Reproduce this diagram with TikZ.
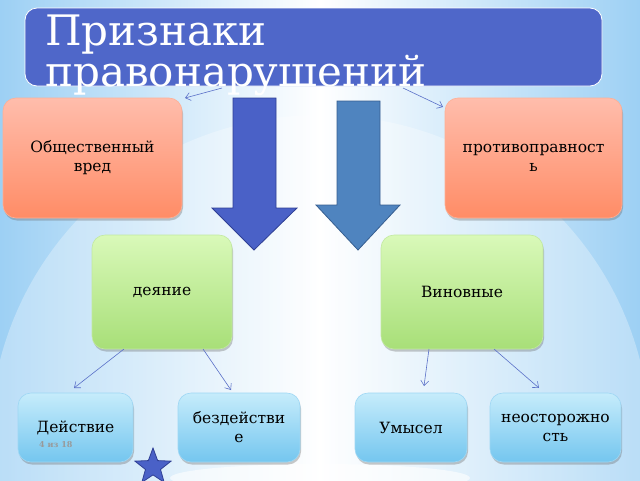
\documentclass[tikz,border=0pt]{standalone}
\usepackage{fontspec}
\setmainfont{DejaVu Serif}
\usetikzlibrary{shapes.geometric,shadows,arrows.meta}
\definecolor{bgb}{HTML}{9DD0F4}
\definecolor{titlec}{HTML}{4F67C9}
\definecolor{salt}{HTML}{FFBDAC}
\definecolor{salb}{HTML}{FF8C66}
\definecolor{grt}{HTML}{D9F9B9}
\definecolor{grb}{HTML}{A8DF78}
\definecolor{blt}{HTML}{C6ECFB}
\definecolor{blb}{HTML}{74C6EF}
\definecolor{arA}{HTML}{4A61C7}
\definecolor{arAd}{HTML}{2F3F94}
\definecolor{arB}{HTML}{4F84BF}
\definecolor{arBd}{HTML}{365E90}
\definecolor{connc}{HTML}{5A70C8}
\tikzset{
  box/.style={rounded corners=13pt, draw=#1!70!white, line width=0.6pt, align=center,
    font=\fontsize{15.5}{19}\selectfont, text=black,
    drop shadow={shadow xshift=1pt, shadow yshift=-2.5pt, opacity=0.35, fill=black!60}},
  redbox/.style={box=salb, top color=salt, bottom color=salb},
  greenbox/.style={box=grb, top color=grt, bottom color=grb},
  bluebox/.style={box=blb, top color=blt, bottom color=blb},
  conn/.style={draw=connc, line width=0.6pt, -{Straight Barb[length=5pt,width=8pt]}},
  bigarrow/.style={line width=0.8pt, line join=miter},
}
\begin{document}
\begin{tikzpicture}[x=1pt,y=-1pt]
\useasboundingbox (0,0) rectangle (640,480);
\clip (0,0) rectangle (640,480);
% background
\fill[left color=bgb, right color=bgb, middle color=white] (0,0) rectangle (640,480);
\fill[white, opacity=0.3] (320,440) ellipse [x radius=330, y radius=325];
\fill[white, opacity=0.6] (320,478) ellipse [x radius=150, y radius=14];
% title
\node[draw=white, line width=0.8pt, fill=titlec, rounded corners=12pt,
  minimum width=577pt, minimum height=78pt, inner sep=0pt] (title) at (313.5,47) {};
\node[anchor=north west, text=white, align=left, font=\fontsize{42}{34}\selectfont, inner sep=0pt] (tt) at (45,15) {Признаки\\правонарушений};
% top boxes
\node[redbox, minimum width=179pt, minimum height=120pt] (ob) at (92.5,158) {Общественный\\вред};
\node[redbox, minimum width=177pt, minimum height=120pt] (pr) at (533.5,158) {противоправност\\ь};
% big arrows
\draw[bigarrow, fill=arA, draw=arAd] (233,98) -- (276,98) -- (276,208) -- (297,208) -- (254,250) -- (212,208) -- (233,208) -- cycle;
\draw[bigarrow, fill=arB, draw=arBd] (337,101) -- (380,101) -- (380,205) -- (400,205) -- (358,250) -- (316,205) -- (337,205) -- cycle;
% middle boxes
\node[greenbox, minimum width=140pt, minimum height=114pt] (de) at (162,292) {деяние};
\node[greenbox, minimum width=162pt, minimum height=114pt] (vi) at (462,292) {Виновные};
% bottom boxes
\node[bluebox, minimum width=115pt, minimum height=69pt] (dst) at (75.5,427.5) {Действие};
\node[bluebox, minimum width=122pt, minimum height=69pt] (bez) at (239,427.5) {бездействи\\е};
\node[bluebox, minimum width=112pt, minimum height=69pt] (um) at (411,427.5) {Умысел};
\node[bluebox, minimum width=131pt, minimum height=69pt] (neo) at (555.5,427.5) {неосторожно\\сть};
\node[text=black!40, font=\bfseries\fontsize{8}{8}\selectfont, anchor=west, inner sep=0pt] (pg) at (39,445) {4 из 18};
% connectors
\coordinate (c1) at (222,88);
\coordinate (c1e) at (185,98);
\coordinate (c2) at (403,88);
\coordinate (c2e) at (443,107);
\draw[conn] (c1) -- (c1e);
\draw[conn] (c2) -- (c2e);
\coordinate (d1) at (124,349);
\coordinate (d1e) at (74,388);
\coordinate (d2) at (203,349);
\coordinate (d2e) at (231,390);
\coordinate (v1) at (429,349);
\coordinate (v1e) at (424,386);
\coordinate (v2) at (494,349);
\coordinate (v2e) at (539,388);
\draw[conn] (d1) -- (d1e);
\draw[conn] (d2) -- (d2e);
\draw[conn] (v1) -- (v1e);
\draw[conn] (v2) -- (v2e);
% star
\node[star, star points=5, star point ratio=2.4, minimum size=38pt, inner sep=0pt, fill=arA, draw=arAd, line width=0.8pt] (st) at (153,467) {};
\end{tikzpicture}
\end{document}
